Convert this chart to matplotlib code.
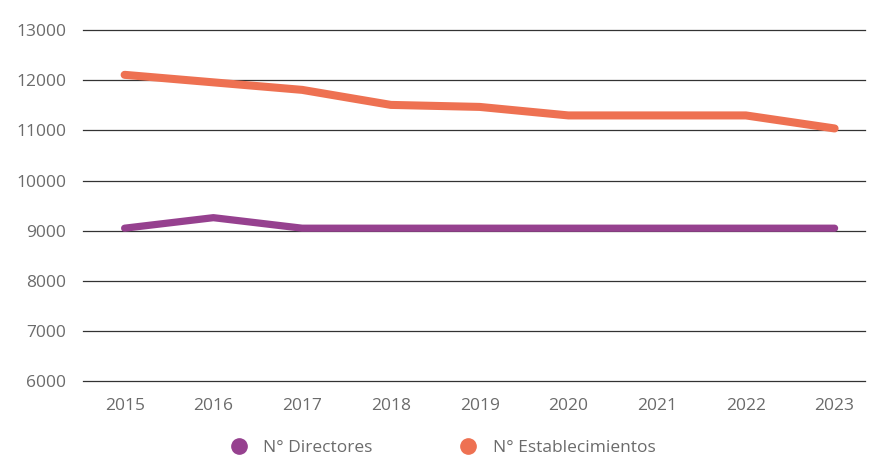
import matplotlib.pyplot as plt
from matplotlib.lines import Line2D

# data
years = [2015, 2016, 2017, 2018, 2019, 2020, 2021, 2022, 2023]
directores = [9050, 9260, 9050, 9050, 9050, 9050, 9050, 9050, 9050]
establecimientos = [12110, 11960, 11810, 11510, 11470, 11300, 11300, 11300, 11040]
y_ticks = [6000, 7000, 8000, 9000, 10000, 11000, 12000, 13000]

purple = '#96418f'
orange = '#ee7152'
txt = '#6b6b6b'

plt.rcParams['font.family'] = ['Open Sans', 'DejaVu Sans']

fig = plt.figure(figsize=(8.7, 4.58), dpi=100)
ax = fig.add_axes([0.095, 0.168, 0.899, 0.766])

for y in y_ticks:
    ax.axhline(y, color='#333333', linewidth=0.9, zorder=1, clip_on=False)

ax.plot(years, directores, color=purple, linewidth=5.2,
        solid_capstyle='round', solid_joinstyle='round', zorder=3)
ax.plot(years, establecimientos, color=orange, linewidth=5.8,
        solid_capstyle='round', solid_joinstyle='round', zorder=3)

ax.set_xlim(2014.527, 2023.34)
ax.set_ylim(6000, 13000)
ax.set_xticks(years)
ax.set_yticks(y_ticks)
ax.set_xticklabels([str(y) for y in years])
ax.tick_params(axis='both', length=0, labelsize=12.5, labelcolor=txt)
ax.tick_params(axis='y', pad=12)
ax.tick_params(axis='x', pad=12)
for s in ax.spines.values():
    s.set_visible(False)

handles = [
    Line2D([], [], linestyle='none', marker='o', markersize=11,
           color=purple, label='N° Directores'),
    Line2D([], [], linestyle='none', marker='o', markersize=11,
           color=orange, label='N° Establecimientos'),
]
leg = fig.legend(handles=handles, loc='center', ncol=2, frameon=False,
                 bbox_to_anchor=(0.509, 1 - 448 / 458), fontsize=12.5,
                 handlelength=1.0, handletextpad=0.9, columnspacing=5.0)
for t in leg.get_texts():
    t.set_color(txt)

fig.savefig('out.png', dpi=100)
